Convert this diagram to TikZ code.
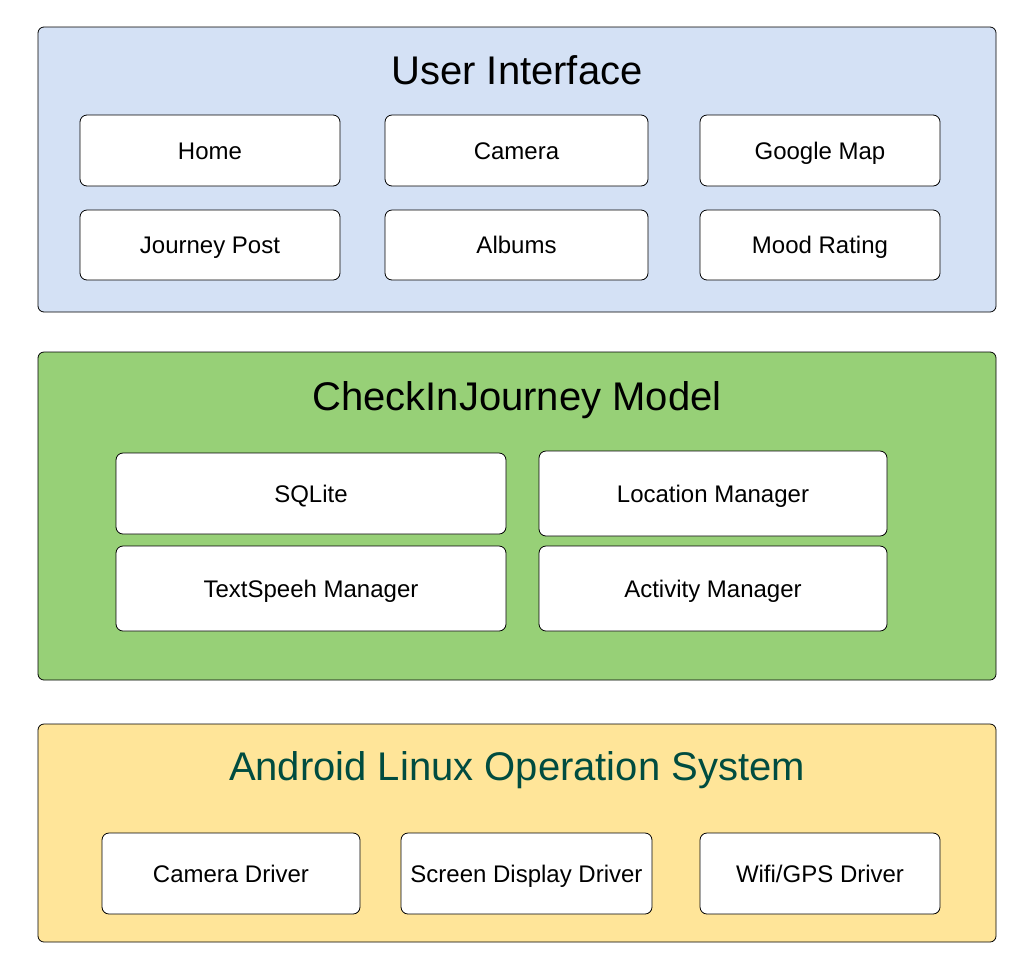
\documentclass[tikz,border=0pt]{standalone}
\usepackage{fontspec}
\setmainfont{Liberation Sans}
\usepackage{xcolor}
\usetikzlibrary{positioning}

\definecolor{uiblue}{HTML}{D4E1F5}
\definecolor{modelgreen}{HTML}{97D077}
\definecolor{osyellow}{HTML}{FFE599}
\definecolor{osteal}{HTML}{004C40}

\begin{document}
\begin{tikzpicture}[
    x=1pt, y=-1pt,
    layer/.style={rectangle, draw, rounded corners=6pt, line width=0.8pt, minimum width=958pt, inner sep=0pt, outer sep=0pt},
    heading/.style={font=\fontsize{40}{46}\selectfont, inner sep=0pt},
    item/.style={rectangle, draw, fill=white, rounded corners=7pt, line width=0.8pt, inner sep=0pt, outer sep=0pt,
        text height=17pt, text depth=0pt, font=\fontsize{24}{28}\selectfont}
]
\useasboundingbox (0,0) rectangle (1030,962);

% User interface: top layer
\node[layer, fill=uiblue, minimum height=285pt] (ui) at (517,169.5) {};
\node[heading] (uititle) at (517,70) {User Interface};
\node[item, minimum width=260pt, minimum height=71pt] (home) at (210,150.5) {Home};
\node[item, minimum width=263pt, minimum height=71pt] (camera) at (516.5,150.5) {Camera};
\node[item, minimum width=240pt, minimum height=71pt] (map) at (820,150.5) {Google Map};
\node[item, minimum width=260pt, minimum height=70pt] (post) at (210,245) {Journey Post};
\node[item, minimum width=263pt, minimum height=70pt] (albums) at (516.5,245) {Albums};
\node[item, minimum width=240pt, minimum height=70pt] (mood) at (820,245) {Mood Rating};

% Model: middle layer
\node[layer, fill=modelgreen, minimum height=328pt] (model) at (517,516) {};
\node[heading] (modeltitle) at (517,400) {CheckInJourney Model};
\node[item, minimum width=390pt, minimum height=81pt] (sqlite) at (311,493.5) {SQLite};
\node[item, minimum width=348pt, minimum height=85pt] (location) at (713,493.5) {Location Manager};
\node[item, minimum width=390pt, minimum height=85pt] (speech) at (311,588.5) {TextSpeeh Manager};
\node[item, minimum width=348pt, minimum height=85pt] (activity) at (713,588.5) {Activity Manager};

% Operating system: bottom layer
\node[layer, fill=osyellow, minimum height=218pt] (os) at (517,833) {};
\node[heading, text=osteal] (ostitle) at (517,770) {Android Linux Operation System};
\node[item, minimum width=258pt, minimum height=81pt] (camdriver) at (231,873.5) {Camera Driver};
\node[item, minimum width=251pt, minimum height=81pt] (screen) at (526.5,873.5) {Screen Display Driver};
\node[item, minimum width=240pt, minimum height=81pt] (wifi) at (820,873.5) {Wifi/GPS Driver};

\end{tikzpicture}
\end{document}
